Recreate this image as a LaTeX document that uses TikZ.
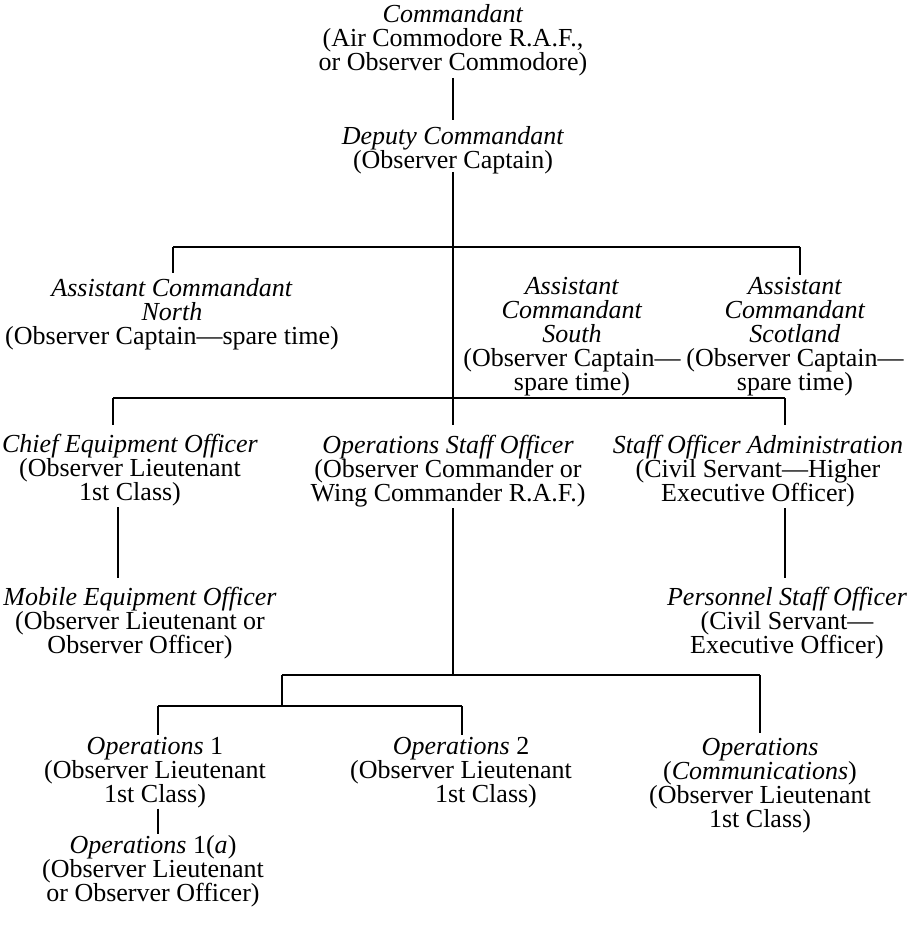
\documentclass[tikz,border=0pt]{standalone}
\usepackage{fontspec}
\setmainfont{Liberation Serif}
\begin{document}
\begin{tikzpicture}[x=1pt,y=-1pt,
  box/.style={inner sep=0pt, align=center, font=\fontsize{26}{24}\selectfont},
  conn/.style={line width=2.2pt}]
\useasboundingbox[fill=white] (0,0) rectangle (913,935);
% nodes
\node[box] (cmd) at (453,40) {\textit{Commandant}\\(Air Commodore R.A.F.,\\or Observer Commodore)};
\node[box] (dep) at (453,150) {\textit{Deputy Commandant}\\(Observer Captain)};
\node[box] (acn) at (172,314) {\textit{Assistant Commandant}\\\textit{North}\\(Observer Captain---spare time)};
\node[box] (acs) at (572,337) {\textit{Assistant}\\\textit{Commandant}\\\textit{South}\\(Observer Captain---\\spare time)};
\node[box] (acsc) at (795,337) {\textit{Assistant}\\\textit{Commandant}\\\textit{Scotland}\\(Observer Captain---\\spare time)};
\node[box] (ceo) at (130,470) {\textit{Chief Equipment Officer}\\(Observer Lieutenant\\1st Class)};
\node[box] (oso) at (448,471) {\textit{Operations Staff Officer}\\(Observer Commander or\\Wing Commander R.A.F.)};
\node[box] (soa) at (758,471) {\textit{Staff Officer Administration}\\(Civil Servant---Higher\\Executive Officer)};
\node[box] (meo) at (140,623) {\textit{Mobile Equipment Officer}\\(Observer Lieutenant or\\Observer Officer)};
\node[box] (pso) at (787,623) {\textit{Personnel Staff Officer}\\(Civil Servant---\\Executive Officer)};
\node[box] (op1) at (155,773) {\textit{Operations} 1\\(Observer Lieutenant\\1st Class)};
\node[box] (op2) at (461,773) {\textit{Operations} 2\\(Observer Lieutenant\\\hspace*{50pt}1st Class)};
\node[box] (opc) at (760,786) {\textit{Operations}\\(\textit{Communications})\\(Observer Lieutenant\\1st Class)};
\node[box] (op1a) at (153,871) {\textit{Operations} 1(\textit{a})\\(Observer Lieutenant\\or Observer Officer)};
% bar coordinates
\coordinate (b1l) at (173,247);
\coordinate (b1r) at (800,247);
\coordinate (b2l) at (113,398);
\coordinate (b2r) at (785,398);
\coordinate (b3l) at (282,675);
\coordinate (b3r) at (760,675);
\coordinate (b4l) at (158,706);
\coordinate (b4r) at (462,706);
\coordinate (cel) at (118,0);
% connectors
\draw[conn, shorten <=2pt, shorten >=6pt] (cmd.south) -- (dep.north);
\draw[conn, shorten <=-2pt, shorten >=10pt] (dep.south) -- (dep.south |- oso.north);
\draw[conn] (b1l) -- (b1r);
\draw[conn, shorten >=5pt] (b1l) -- (b1l |- acn.north);
\draw[conn, shorten >=2pt] (b1r) -- (b1r |- acsc.north);
\draw[conn] (b2l) -- (b2r);
\draw[conn, shorten >=9pt] (b2l) -- (b2l |- ceo.north);
\draw[conn, shorten >=10pt] (b2r) -- (b2r |- soa.north);
\draw[conn, shorten <=1pt, shorten >=9pt] (cel |- ceo.south) -- (cel |- meo.north);
\draw[conn, shorten <=1pt, shorten >=9pt] (b2r |- soa.south) -- (b2r |- pso.north);
\draw[conn, shorten <=1pt] (dep.south |- oso.south) -- (dep.south |- b3l);
\draw[conn] (b3l) -- (b3r);
\draw[conn] (b3l) -- (b3l |- b4l);
\draw[conn] (b4l) -- (b4r);
\draw[conn, shorten >=2pt] (b4l) -- (b4l |- op1.north);
\draw[conn, shorten >=2pt] (b4r) -- (b4r |- op2.north);
\draw[conn, shorten >=5pt] (b3r) -- (b3r |- opc.north);
\draw[conn, shorten <=0pt, shorten >=1pt] (b4l |- op1.south) -- (b4l |- op1a.north);
\end{tikzpicture}
\end{document}
